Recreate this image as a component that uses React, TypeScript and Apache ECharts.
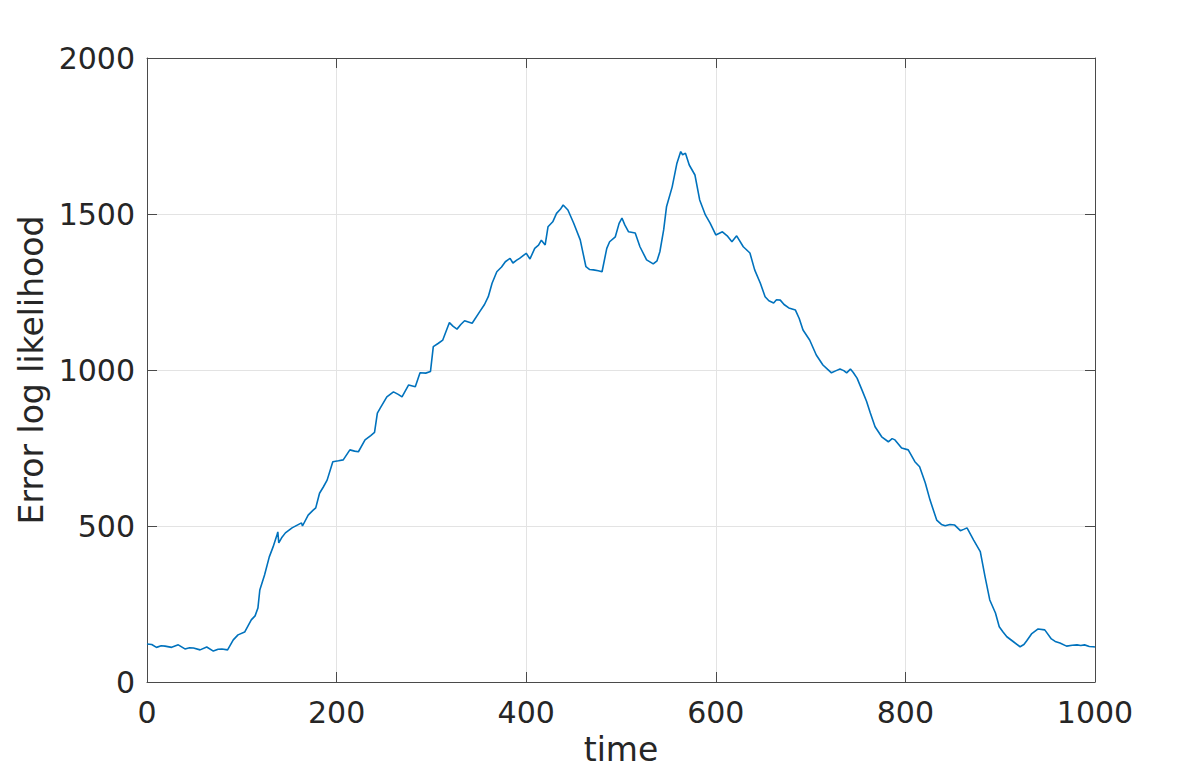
import React, { useEffect, useRef } from "react";
import * as echarts from "echarts";

const times = [
  0, 5, 10, 15, 19, 26, 33, 40, 45, 49, 56, 63, 70, 75, 79, 85, 91, 96, 103, 110,
  114, 117, 119, 124, 129, 133, 137, 138, 139, 142, 146, 153, 158, 163, 164, 170, 175, 178, 182, 186,
  190, 196, 202, 207, 214, 219, 223, 230, 236, 240, 243, 246, 253, 260, 265, 269, 276, 283, 288, 294,
  299, 302, 307, 312, 319, 323, 327, 331, 335, 343, 351, 356, 360, 364, 369, 374, 378, 383, 386, 390,
  393, 400, 404, 409, 413, 416, 420, 423, 428, 432, 436, 439, 444, 450, 457, 463, 467, 471, 476, 480,
  485, 488, 494, 498, 501, 504, 508, 515, 520, 527, 534, 538, 541, 545, 548, 554, 559, 563, 565, 568,
  572, 578, 583, 589, 594, 600, 607, 612, 617, 622, 629, 636, 641, 647, 652, 656, 661, 664, 668, 672,
  677, 684, 688, 692, 699, 706, 713, 718, 722, 727, 731, 735, 738, 742, 745, 749, 755, 759, 763, 768,
  775, 782, 786, 789, 796, 803, 810, 815, 821, 826, 833, 838, 842, 847, 852, 858, 862, 865, 872, 879,
  884, 889, 895, 899, 903, 907, 914, 921, 925, 928, 933, 940, 947, 954, 958, 963, 970, 976, 981, 985,
  989, 994, 998, 1000,
];
const values = [
  122, 120, 111, 116, 115, 111, 119, 106, 110, 109, 103, 112, 99, 105, 106, 103, 135, 151, 160, 199,
  212, 237, 295, 343, 401, 433, 470, 481, 446, 462, 478, 494, 502, 510, 500, 535, 550, 558, 605, 625,
  647, 706, 709, 712, 744, 740, 738, 776, 790, 800, 862, 878, 914, 930, 922, 914, 952, 946, 991, 990,
  995, 1075, 1085, 1096, 1152, 1140, 1131, 1146, 1158, 1150, 1187, 1210, 1235, 1278, 1315, 1330, 1347, 1358, 1343, 1352,
  1358, 1374, 1356, 1390, 1400, 1416, 1401, 1459, 1475, 1502, 1515, 1529, 1513, 1471, 1417, 1331, 1322, 1321, 1318, 1315,
  1390, 1411, 1427, 1470, 1487, 1465, 1443, 1439, 1395, 1353, 1340, 1350, 1379, 1449, 1523, 1587, 1663, 1700, 1690, 1695,
  1657, 1625, 1545, 1497, 1471, 1433, 1443, 1430, 1411, 1430, 1395, 1375, 1321, 1278, 1235, 1222, 1215, 1225, 1224, 1210,
  1199, 1192, 1165, 1128, 1096, 1048, 1016, 1002, 991, 998, 1003, 998, 991, 1003, 992, 974, 930, 900, 862, 818,
  786, 770, 780, 776, 750, 744, 706, 690, 638, 583, 519, 505, 501, 505, 503, 485, 490, 494, 455, 418,
  338, 263, 221, 177, 160, 145, 129, 113, 120, 132, 154, 170, 167, 138, 130, 125, 115, 118, 119, 117,
  119, 114, 113, 112,
];

const xTicks = [0, 200, 400, 600, 800, 1000];
const yTicks = [0, 500, 1000, 1500, 2000];

const FONT = "DejaVu Sans";
const AXIS_COLOR = "#4a4a4a";
const TEXT_COLOR = "#262626";

export default function App() {
  const ref = useRef<HTMLDivElement>(null);

  useEffect(() => {
    if (!ref.current) return;
    const chart = echarts.init(ref.current, undefined, { renderer: "svg" });
    const data = times.map((t, i) => [t, values[i]]);
    const frameAxis = () => ({
      axisLine: { show: true, onZero: false, lineStyle: { color: AXIS_COLOR, width: 1 } },
      axisTick: { show: true, inside: true, length: 10, lineStyle: { color: AXIS_COLOR, width: 1 } },
    });
    const plain = (v: number) => String(v);
    chart.setOption({
      animation: false,
      backgroundColor: "#ffffff",
      grid: {
        left: 147,
        right: 101,
        top: 58,
        bottom: 90,
        containLabel: false,
        outerBoundsMode: "none",
      },
      xAxis: [
        {
          type: "value",
          min: xTicks[0],
          max: xTicks[xTicks.length - 1],
          interval: 200,
          position: "bottom",
          name: "time",
          nameLocation: "middle",
          nameGap: 51,
          nameTextStyle: { fontFamily: FONT, fontSize: 33, color: TEXT_COLOR },
          ...frameAxis(),
          axisLabel: { fontFamily: FONT, fontSize: 30, color: TEXT_COLOR, margin: 15, formatter: plain },
          splitLine: { show: true, lineStyle: { color: "#e3e3e3", width: 1 } },
        },
        {
          type: "value",
          min: xTicks[0],
          max: xTicks[xTicks.length - 1],
          interval: 200,
          position: "top",
          ...frameAxis(),
          axisLabel: { show: false },
          splitLine: { show: false },
        },
      ],
      yAxis: [
        {
          type: "value",
          min: yTicks[0],
          max: yTicks[yTicks.length - 1],
          interval: 500,
          position: "left",
          name: "Error log likelihood",
          nameLocation: "middle",
          nameGap: 99,
          nameTextStyle: { fontFamily: FONT, fontSize: 33, color: TEXT_COLOR },
          ...frameAxis(),
          axisLabel: { fontFamily: FONT, fontSize: 30, color: TEXT_COLOR, margin: 12, formatter: plain },
          splitLine: { show: true, lineStyle: { color: "#e3e3e3", width: 1 } },
        },
        {
          type: "value",
          min: yTicks[0],
          max: yTicks[yTicks.length - 1],
          interval: 500,
          position: "right",
          ...frameAxis(),
          axisLabel: { show: false },
          splitLine: { show: false },
        },
      ],
      series: [
        {
          type: "line",
          data,
          showSymbol: false,
          symbol: "none",
          lineStyle: { color: "#0072BD", width: 1.6 },
          itemStyle: { color: "#0072BD" },
        },
      ],
    });
    return () => chart.dispose();
  }, []);

  return (
    <div
      ref={ref}
      style={{ position: "fixed", left: 0, top: 0, width: 1196, height: 772, background: "#fff" }}
    />
  );
}
